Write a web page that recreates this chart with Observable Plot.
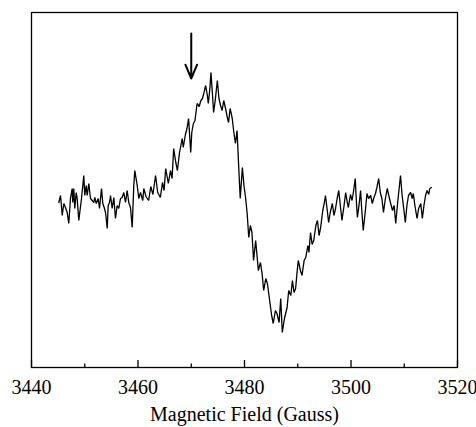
<!DOCTYPE html>
<html>
<head>
<meta charset="utf-8">
<script src="https://cdn.jsdelivr.net/npm/d3@7"></script>
<script src="https://cdn.jsdelivr.net/npm/@observablehq/plot@0.6"></script>
<style>
  html, body { margin: 0; padding: 0; background: #fff; }
</style>
</head>
<body>
<div id="chart"></div>
<script>
// Magnetic field (Gauss) and EPR signal (arbitrary units)
const field = [
  3445.13, 3445.45, 3445.77, 3446.07, 3446.38, 3446.70, 3447.00, 3447.32, 3447.64, 3447.75,
  3447.94, 3448.13, 3448.39, 3448.58, 3448.88, 3449.39, 3449.82, 3450.01, 3450.27, 3450.46,
  3450.76, 3451.08, 3451.40, 3451.70, 3451.89, 3452.15, 3452.53, 3452.77, 3453.15, 3453.39,
  3453.65, 3453.90, 3454.22, 3454.40, 3454.65, 3454.84, 3455.15, 3455.46, 3455.77, 3456.09,
  3456.39, 3456.71, 3457.03, 3457.33, 3457.65, 3457.97, 3458.27, 3458.59, 3458.91, 3459.21,
  3459.40, 3459.85, 3460.15, 3460.47, 3460.90, 3461.09,
  3461.5, 3462.0, 3462.4, 3462.8, 3463.3, 3463.7, 3464.2, 3464.6, 3464.9, 3465.2,
  3465.7, 3466.1, 3466.4, 3466.7, 3467.1, 3467.4, 3467.8, 3468.3, 3468.5, 3468.9,
  3469.2, 3469.5, 3469.9, 3470.1, 3470.4, 3470.7, 3471.1, 3471.5, 3471.8, 3472.1,
  3472.4, 3472.7, 3473.0, 3473.2, 3473.5, 3473.7, 3474.0, 3474.2, 3474.5, 3474.9,
  3475.2, 3475.5, 3475.8, 3476.1, 3476.4, 3476.7, 3477.0, 3477.3, 3477.7, 3478.0,
  3478.3, 3478.6, 3478.9, 3479.2, 3479.6, 3479.9, 3480.2, 3480.5, 3480.8, 3481.1,
  3481.4, 3481.7, 3482.1, 3482.3, 3482.6, 3483.0, 3483.3, 3483.6, 3484.0, 3484.3,
  3484.6, 3484.9, 3485.1, 3485.4, 3485.8, 3486.1, 3486.5, 3486.8, 3487.1, 3487.5,
  3488.0, 3488.3, 3488.7, 3489.0, 3489.3, 3489.6, 3489.9, 3490.1, 3490.5, 3490.8,
  3491.2, 3491.5, 3491.9, 3492.1, 3492.4, 3492.7, 3493.0, 3493.4, 3493.7, 3494.0,
  3494.3, 3494.7, 3495.0, 3495.2, 3495.5, 3495.8, 3496.1, 3496.5, 3496.8, 3497.1,
  3497.4, 3497.7, 3498.0, 3498.3, 3498.7, 3499.0, 3499.3, 3499.5, 3499.9, 3500.2,
  3500.5, 3500.8, 3501.0, 3501.2, 3501.5, 3501.8, 3502.0, 3502.3, 3502.7, 3503.0,
  3503.3, 3503.7, 3504.0, 3504.3, 3504.6, 3504.9, 3505.2, 3505.5, 3505.8, 3506.1,
  3506.4, 3506.8, 3507.1, 3507.4, 3507.8, 3508.1, 3508.4, 3508.8, 3509.3, 3509.6,
  3509.9, 3510.2, 3510.5, 3510.8, 3511.2, 3511.5, 3511.7, 3512.0, 3512.4, 3512.7,
  3513.1, 3513.4, 3513.7, 3514.0, 3514.3, 3514.6, 3514.8, 3515.1
];
const signal = [
    -2,    5,  -15,   -3,   -7,  -12,  -23,    2,   12,   -2,
    12,   -8,    8,    2,  -20,    2,   25,    5,   15,    5,
    17,    2,    0,   -2,    3,   -3,    2,   -8,   12,   -3,
    -7,  -12,  -28,   -5,   -2,    5,   -8,    3,  -18,   -5,
    -8,    2,    3,    8,   -2,   10,   -2,   -7,  -27,   15,
    30,   15,    2,    8,    0,   12,
     4,    0,   14,    6,   25,    8,    3,   18,   10,   32,
    17,   30,   22,   52,   38,   30,   48,   62,   53,   66,
    72,   82,   48,   68,   77,   80,   97,   94,  100,  102,
   108,  115,  106,   97,  112,  128,  105,   88,  100,  120,
   102,   95,   90,  100,   93,   85,   78,   92,   82,   68,
    57,   70,   35,    2,   33,   15,    3,  -13,  -37,  -25,
   -32,  -60,  -40,  -52,  -70,  -62,  -73,  -90,  -78,  -83,
   -95, -107, -115, -123, -110, -113, -122,  -98, -132, -118,
  -107,  -90,  -95,  -80,  -92,  -88,  -70,  -60,  -70,  -75,
   -60,  -57,  -45,  -52,  -32,  -44,  -40,  -25,  -20,  -35,
   -27,  -10,   -2,    5,   -8,  -22,  -12,   -3,  -15,   -8,
     2,   10,   -5,  -20,   -5,    8,   -2,   -7,    6,    0,
    10,   22,    0,  -17,   -5,   10,   -8,  -30,  -10,    7,
     2,    5,   -3,    3,    7,   14,   22,    8,    2,  -12,
     0,   12,    5,   -2,  -10,   -5,  -23,    0,   25,    5,
    -8,  -22,   -5,    5,    8,    2,    7,   -5,  -18,   -8,
    -3,  -18,   -5,    5,   10,    6,   12,   13
];
const majorTicks = [3440, 3460, 3480, 3500, 3520];
const minorTicks = [3450, 3470, 3490, 3510];
const xLabel = "Magnetic Field (Gauss)";
// Annotation arrow (field position, start and tip in signal units)
const arrowField = [3470];
const arrowStart = [167];
const arrowTip = [122];

const serif = "'Liberation Serif', 'DejaVu Serif', serif";
const spectrum = field.map((f, i) => ({field: f, signal: signal[i]}));
const arrows = arrowField.map((f, i) => ({x: f, y1: arrowStart[i], y2: arrowTip[i]}));

const chart = Plot.plot({
  width: 476,
  height: 427,
  marginLeft: 31,
  marginRight: 19,
  marginTop: 12,
  marginBottom: 60,
  style: {fontFamily: serif, background: "#fff", color: "#000"},
  x: {domain: [3440, 3520]},
  y: {domain: [-167, 188], axis: null},
  marks: [
    Plot.frame({stroke: "#000", strokeWidth: 1.3}),
    Plot.axisX({ticks: majorTicks, tickSize: -7, text: null, strokeWidth: 1.3, label: null}),
    Plot.axisX({ticks: minorTicks, tickSize: -3.5, text: null, strokeWidth: 1.3, label: null}),
    Plot.axisX({ticks: majorTicks, tickSize: 0, tickPadding: 12, fontSize: 20, fontFamily: serif, tickFormat: d => String(d), label: null}),
    Plot.text([xLabel], {frameAnchor: "bottom", dy: 53, fontSize: 20, fontFamily: serif, fill: "#000"}),
    Plot.line(spectrum, {x: "field", y: "signal", stroke: "#000", strokeWidth: 1.3, strokeLinejoin: "miter"}),
    Plot.arrow(arrows, {x: "x", y1: "y1", y2: "y2", stroke: "#000", strokeWidth: 2, headLength: 14, headAngle: 46})
  ]
});
document.getElementById("chart").appendChild(chart);
</script>
</body>
</html>
